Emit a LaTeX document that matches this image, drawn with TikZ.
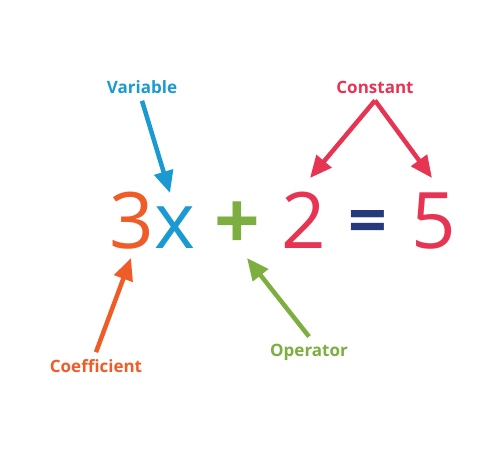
\documentclass[tikz,border=0pt]{standalone}
\usepackage{fontspec}
\setmainfont{Open Sans}
\usetikzlibrary{arrows.meta}
\definecolor{coefcol}{RGB}{240,92,40}
\definecolor{varcol}{RGB}{26,154,208}
\definecolor{opcol}{RGB}{124,174,64}
\definecolor{constcol}{RGB}{230,52,82}
\definecolor{eqcol}{RGB}{37,58,122}

\begin{document}
\begin{tikzpicture}[x=1pt,y=-1pt,>={Triangle[length=22pt,width=19pt]},
  line width=4.5pt,
  sym/.style={anchor=base,inner sep=0pt,font=\fontsize{78}{78}\selectfont},
  tag/.style={inner sep=5pt,font=\fontsize{17}{17}\selectfont\bfseries}]

  \useasboundingbox (0,0) rectangle (500,464);

  % the equation
  \node[sym,text=coefcol] (three) at (132,248) {3};
  \node[sym,text=varcol] (x) at (174.5,248) {x};
  \node[sym,text=opcol,font=\fontsize{80}{80}\selectfont\bfseries] (plus) at (237,249.5) {+};
  \node[sym,text=constcol] (two) at (303.5,248) {2};
  \node[sym,text=eqcol,font=\fontsize{68}{68}\selectfont\bfseries] (eq) at (368,244.5) {=};
  \node[sym,text=constcol] (five) at (433.5,248) {5};

  % labels
  \node[tag,text=varcol] (variable) at (142,87) {Variable};
  \node[tag,text=constcol] (constant) at (375,87) {Constant};
  \node[tag,text=coefcol] (coefficient) at (96,366) {Coefficient};
  \node[tag,text=opcol] (operator) at (309,352) {Operator};

  % arrow tips
  \coordinate (xtip) at (170,193);
  \coordinate (twotip) at (310,178);
  \coordinate (fivetip) at (432,178);
  \coordinate (threetip) at (131,258);
  \coordinate (plustip) at (247,258);

  \draw[->,varcol] (variable.south) -- (xtip);
  \draw[->,constcol] (constant.south) -- (twotip);
  \draw[->,constcol] (constant.south) -- (fivetip);
  \draw[->,coefcol] (coefficient.north) -- (threetip);
  \draw[->,opcol] (operator.north) -- (plustip);
\end{tikzpicture}
\end{document}
